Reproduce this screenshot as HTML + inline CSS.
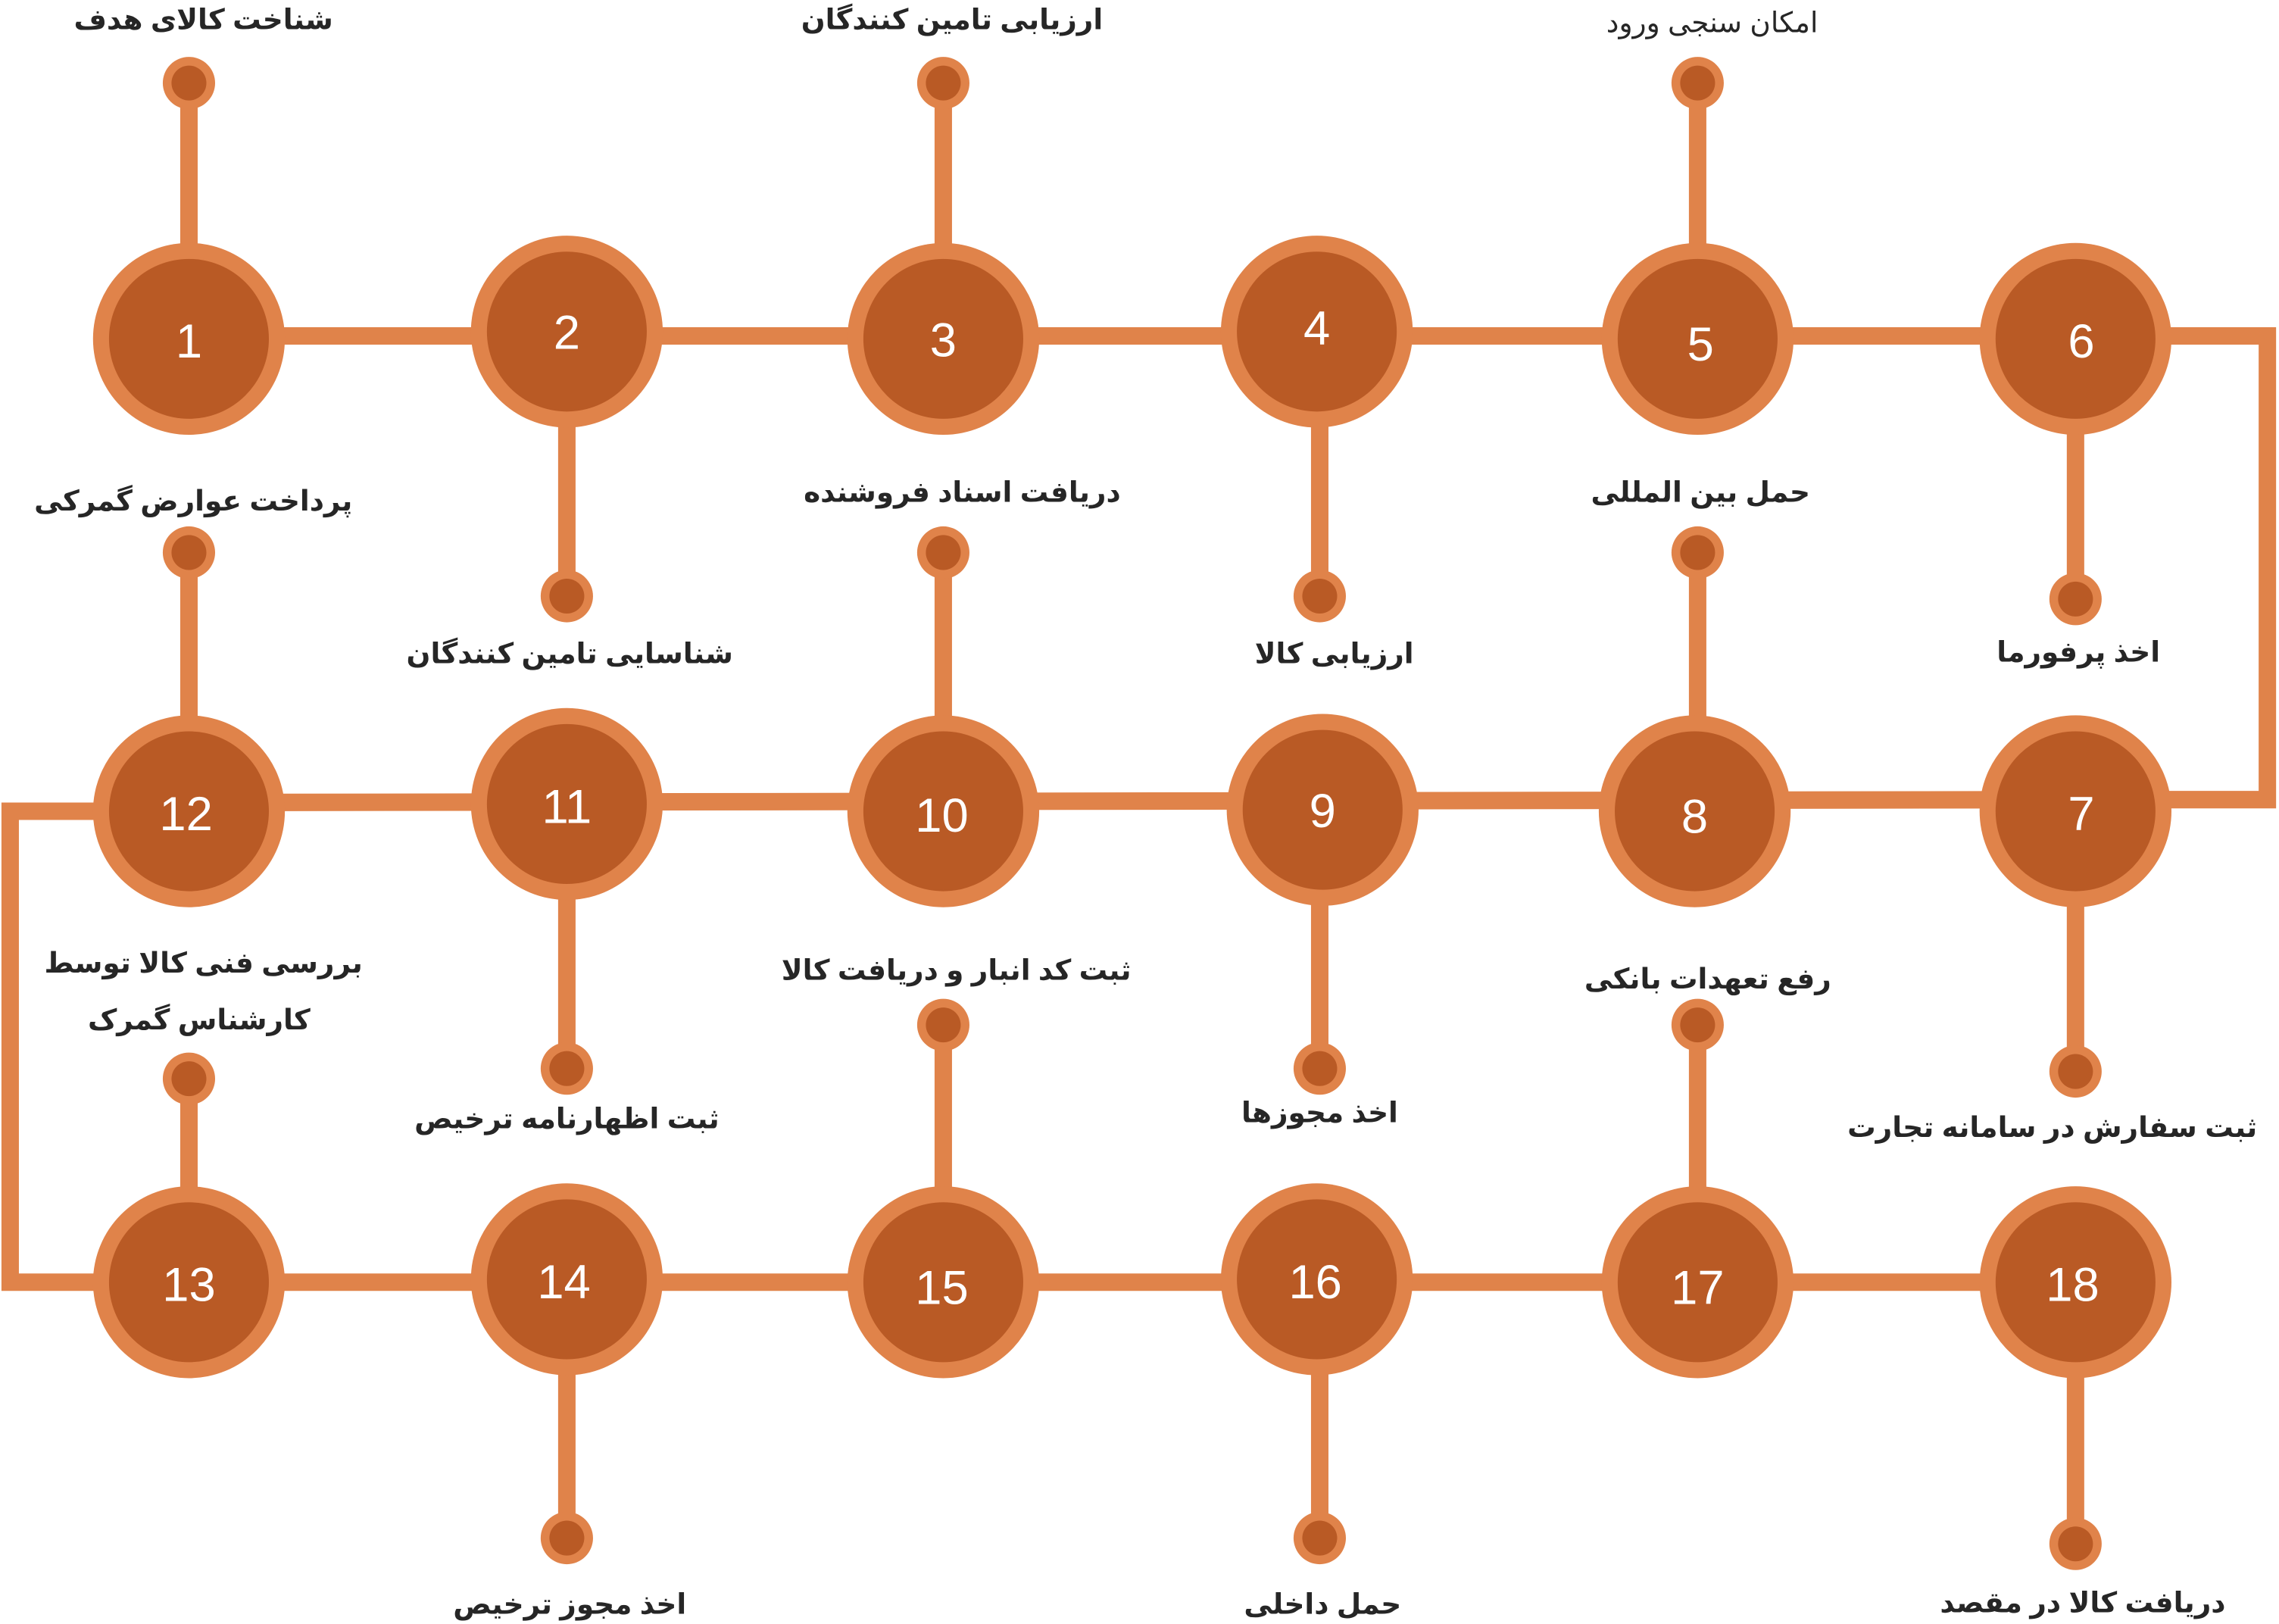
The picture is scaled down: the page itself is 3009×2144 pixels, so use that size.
<!DOCTYPE html>
<html><head><meta charset="utf-8"><style>
html,body{margin:0;padding:0;background:#fff;}
svg{display:block;}
text{font-family:"Liberation Sans","DejaVu Sans",sans-serif;}
.l{font-size:19.5px;font-weight:bold;fill:#262626;text-anchor:middle;}
.n{font-size:33px;fill:#fff;text-anchor:middle;dominant-baseline:central;}
</style></head><body>
<svg width="3009" height="2144" viewBox="0 0 1568 1117" xmlns="http://www.w3.org/2000/svg">
<g stroke="#E0834A" stroke-width="12" fill="none">
<polyline points="130,231 1428,231 1560,231 1560,550 1428,550 130,552"/>
<polyline points="130,558 7,558 7,882 130,882 1428,882"/>
<line x1="130" y1="57" x2="130" y2="233"/>
<line x1="390" y1="228" x2="390" y2="410"/>
<line x1="649" y1="57" x2="649" y2="233"/>
<line x1="908" y1="228" x2="908" y2="410"/>
<line x1="1168" y1="57" x2="1168" y2="233"/>
<line x1="1428" y1="233" x2="1428" y2="412"/>
<line x1="130" y1="380" x2="130" y2="558"/>
<line x1="390" y1="553" x2="390" y2="735"/>
<line x1="649" y1="380" x2="649" y2="558"/>
<line x1="908" y1="557" x2="908" y2="735"/>
<line x1="1168" y1="380" x2="1168" y2="558"/>
<line x1="1428" y1="558" x2="1428" y2="737"/>
<line x1="130" y1="742" x2="130" y2="882"/>
<line x1="390" y1="880" x2="390" y2="1058"/>
<line x1="649" y1="705" x2="649" y2="882"/>
<line x1="908" y1="880" x2="908" y2="1058"/>
<line x1="1168" y1="705" x2="1168" y2="882"/>
<line x1="1428" y1="882" x2="1428" y2="1062"/>
</g>
<g>
<g fill="#E0834A">
<circle cx="130" cy="57" r="18"/><circle cx="390" cy="410" r="18"/><circle cx="649" cy="57" r="18"/><circle cx="908" cy="410" r="18"/><circle cx="1168" cy="57" r="18"/><circle cx="1428" cy="412" r="18"/>
<circle cx="130" cy="380" r="18"/><circle cx="390" cy="735" r="18"/><circle cx="649" cy="380" r="18"/><circle cx="908" cy="735" r="18"/><circle cx="1168" cy="380" r="18"/><circle cx="1428" cy="737" r="18"/>
<circle cx="130" cy="742" r="18"/><circle cx="390" cy="1058" r="18"/><circle cx="649" cy="705" r="18"/><circle cx="908" cy="1058" r="18"/><circle cx="1168" cy="705" r="18"/><circle cx="1428" cy="1062" r="18"/>
</g>
<g fill="#B95A25">
<circle cx="130" cy="57" r="12"/><circle cx="390" cy="410" r="12"/><circle cx="649" cy="57" r="12"/><circle cx="908" cy="410" r="12"/><circle cx="1168" cy="57" r="12"/><circle cx="1428" cy="412" r="12"/>
<circle cx="130" cy="380" r="12"/><circle cx="390" cy="735" r="12"/><circle cx="649" cy="380" r="12"/><circle cx="908" cy="735" r="12"/><circle cx="1168" cy="380" r="12"/><circle cx="1428" cy="737" r="12"/>
<circle cx="130" cy="742" r="12"/><circle cx="390" cy="1058" r="12"/><circle cx="649" cy="705" r="12"/><circle cx="908" cy="1058" r="12"/><circle cx="1168" cy="705" r="12"/><circle cx="1428" cy="1062" r="12"/>
</g>
<g fill="#E0834A">
<circle cx="130" cy="233" r="66"/><circle cx="390" cy="228" r="66"/><circle cx="649" cy="233" r="66"/><circle cx="906" cy="228" r="66"/><circle cx="1168" cy="233" r="66"/><circle cx="1428" cy="233" r="66"/>
<circle cx="130" cy="558" r="66"/><circle cx="390" cy="553" r="66"/><circle cx="649" cy="558" r="66"/><circle cx="910" cy="557" r="66"/><circle cx="1166" cy="558" r="66"/><circle cx="1428" cy="558" r="66"/>
<circle cx="130" cy="882" r="66"/><circle cx="390" cy="880" r="66"/><circle cx="649" cy="882" r="66"/><circle cx="906" cy="880" r="66"/><circle cx="1168" cy="882" r="66"/><circle cx="1428" cy="882" r="66"/>
</g>
<g fill="#B95A25">
<circle cx="130" cy="233" r="55"/><circle cx="390" cy="228" r="55"/><circle cx="649" cy="233" r="55"/><circle cx="906" cy="228" r="55"/><circle cx="1168" cy="233" r="55"/><circle cx="1428" cy="233" r="55"/>
<circle cx="130" cy="558" r="55"/><circle cx="390" cy="553" r="55"/><circle cx="649" cy="558" r="55"/><circle cx="910" cy="557" r="55"/><circle cx="1166" cy="558" r="55"/><circle cx="1428" cy="558" r="55"/>
<circle cx="130" cy="882" r="55"/><circle cx="390" cy="880" r="55"/><circle cx="649" cy="882" r="55"/><circle cx="906" cy="880" r="55"/><circle cx="1168" cy="882" r="55"/><circle cx="1428" cy="882" r="55"/>
</g>
<text class="n" x="130" y="235">1</text><text class="n" x="390" y="229">2</text><text class="n" x="649" y="234">3</text><text class="n" x="906" y="226">4</text><text class="n" x="1170" y="237">5</text><text class="n" x="1432" y="235">6</text>
<text class="n" x="128" y="560">12</text><text class="n" x="390" y="555">11</text><text class="n" x="648" y="561">10</text><text class="n" x="910" y="558">9</text><text class="n" x="1166" y="562">8</text><text class="n" x="1432" y="560">7</text>
<text class="n" x="130" y="884">13</text><text class="n" x="388" y="882">14</text><text class="n" x="648" y="886">15</text><text class="n" x="905" y="882">16</text><text class="n" x="1168" y="886">17</text><text class="n" x="1426" y="884">18</text>
<text class="l" x="140" y="20">شناخت کالای هدف</text>
<text class="l" x="655" y="20">ارزیابی تامین کنندگان</text>
<text class="l" x="1178" y="22" style="font-weight:normal">امکان سنجی ورود</text>
<text class="l" x="392" y="456">شناسایی تامین کنندگان</text>
<text class="l" x="918" y="456">ارزیابی کالا</text>
<text class="l" x="1430" y="455">اخذ پرفورما</text>
<text class="l" x="133" y="351">پرداخت عوارض گمرکی</text>
<text class="l" x="662" y="345">دریافت اسناد فروشنده</text>
<text class="l" x="1170" y="345">حمل بین المللی</text>
<text class="l" x="140" y="669">بررسی فنی کالا توسط</text>
<text class="l" x="137" y="708">کارشناس گمرک</text>
<text class="l" x="390" y="776">ثبت اظهارنامه ترخیص</text>
<text class="l" x="658" y="674">ثبت کد انبار و دریافت کالا</text>
<text class="l" x="908" y="772">اخذ مجوزها</text>
<text class="l" x="1175" y="680">رفع تعهدات بانکی</text>
<text class="l" x="1412" y="782">ثبت سفارش در سامانه تجارت</text>
<text class="l" x="392" y="1110">اخذ مجوز ترخیص</text>
<text class="l" x="910" y="1110">حمل داخلی</text>
<text class="l" x="1433" y="1109">دریافت کالا در مقصد</text>
</g>
</svg>
</body></html>
